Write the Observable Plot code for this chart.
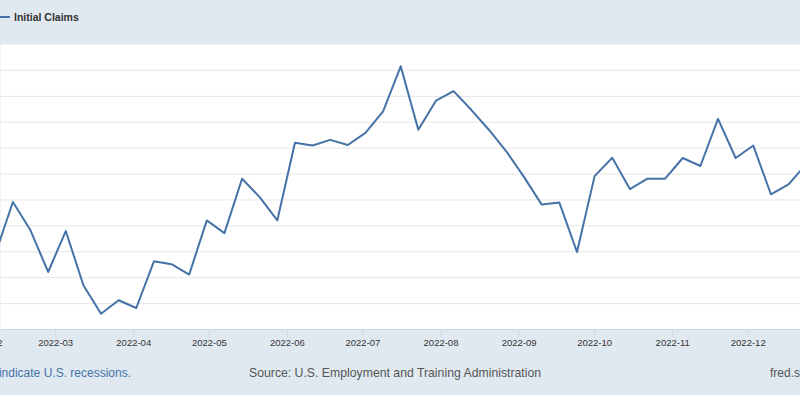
<!DOCTYPE html>
<html>
<head>
<meta charset="utf-8">
<script src="https://cdn.jsdelivr.net/npm/d3@7"></script>
<script src="https://cdn.jsdelivr.net/npm/@observablehq/plot@0.6"></script>
<style>
  html, body { margin: 0; padding: 0; }
  body { width: 800px; height: 395px; overflow: hidden; background: #e1e9f0; position: relative;
         font-family: "Liberation Sans", Arial, Helvetica, sans-serif; }
  #legend-line { position: absolute; left: 0; top: 16px; width: 10px; height: 2px; background: #4572a7; }
  #legend-text { position: absolute; left: 14px; top: 10px; line-height: 14px; font-size: 10.5px; font-weight: bold; color: #333; white-space: nowrap; }
  #chart { position: absolute; left: 0; top: 44px; width: 800px; }
  .foot { position: absolute; top: 366px; line-height: 14px; font-size: 12px; white-space: nowrap; }
  #recess { right: 669px; color: #4572a7; }
  #source { left: 249px; color: #555; font-size: 12.25px; }
  #fred { left: 770px; color: #555; }
</style>
</head>
<body>
<div id="legend-line"></div>
<div id="legend-text">Initial Claims</div>
<div id="chart"></div>
<div class="foot" id="recess">Shaded areas indicate U.S. recessions.</div>
<div class="foot" id="source">Source: U.S. Employment and Training Administration</div>
<div class="foot" id="fred">fred.stlouisfed.org</div>
<script>
// Weekly initial claims (thousands), week ending Saturday, 2022
const weeks = [
  "2022-02-05","2022-02-12","2022-02-19","2022-02-26",
  "2022-03-05","2022-03-12","2022-03-19","2022-03-26",
  "2022-04-02","2022-04-09","2022-04-16","2022-04-23","2022-04-30",
  "2022-05-07","2022-05-14","2022-05-21","2022-05-28",
  "2022-06-04","2022-06-11","2022-06-18","2022-06-25",
  "2022-07-02","2022-07-09","2022-07-16","2022-07-23","2022-07-30",
  "2022-08-06","2022-08-13","2022-08-20","2022-08-27",
  "2022-09-03","2022-09-10","2022-09-17","2022-09-24",
  "2022-10-01","2022-10-08","2022-10-15","2022-10-22","2022-10-29",
  "2022-11-05","2022-11-12","2022-11-19","2022-11-26",
  "2022-12-03","2022-12-10","2022-12-17","2022-12-24"
];
const claims = [
  189.1, 209.2, 198.3, 182.2,
  198.0, 177.1, 166.1, 171.3,
  168.3, 186.3, 185.2, 181.2, 202.1,
  197.2, 218.2, 211.1, 202.1,
  232.1, 231.0, 233.2, 231.2,
  235.9, 244.2, 261.6, 237.1, 248.3,
  252.0, 244.8, 237.1, 228.7,
  218.8, 208.2, 209.0, 189.9,
  219.2, 226.3, 214.2, 218.2, 218.2,
  226.2, 223.1, 241.3, 226.2,
  231.0, 212.2, 216.0, 223.8
];
const monthTicks = [
  "2022-02-01","2022-03-01","2022-04-01","2022-05-01","2022-06-01","2022-07-01",
  "2022-08-01","2022-09-01","2022-10-01","2022-11-01","2022-12-01","2023-01-01"
];
const yGrid = [170, 180, 190, 200, 210, 220, 230, 240, 250, 260];
const xDomain = ["2022-02-07T02:00:00Z", "2022-12-21T18:00:00Z"];
const yDomain = [160, 270];

const data = weeks.map((w, i) => ({date: new Date(w + "T00:00:00Z"), value: claims[i]}));

const chart = Plot.plot({
  width: 800,
  height: 310,
  marginLeft: 0,
  marginRight: 0,
  marginTop: 0,
  marginBottom: 25,
  style: {background: "transparent", fontFamily: "'Liberation Sans', Arial, Helvetica, sans-serif", overflow: "hidden"},
  x: {type: "utc", domain: xDomain.map(d => new Date(d)), axis: null},
  y: {domain: yDomain, axis: null},
  marks: [
    Plot.frame({fill: "white", stroke: "none"}),
    Plot.gridY(yGrid, {stroke: "#e6e6e6", strokeOpacity: 1, strokeWidth: 1}),
    Plot.ruleY([yDomain[0]], {stroke: "#ccd6eb", strokeWidth: 1}),
    Plot.axisX(monthTicks.map(d => new Date(d + "T00:00:00Z")), {
      tickSize: 8, tickPadding: 2, stroke: "#ccd6eb", strokeOpacity: 1,
      tickFormat: d3.utcFormat("%Y-%m"), fontSize: 9.5, fill: "#333", label: null
    }),
    Plot.line(data, {x: "date", y: "value", stroke: "#4572a7", strokeWidth: 2, clip: true})
  ]
});
document.getElementById("chart").appendChild(chart);
</script>
</body>
</html>
